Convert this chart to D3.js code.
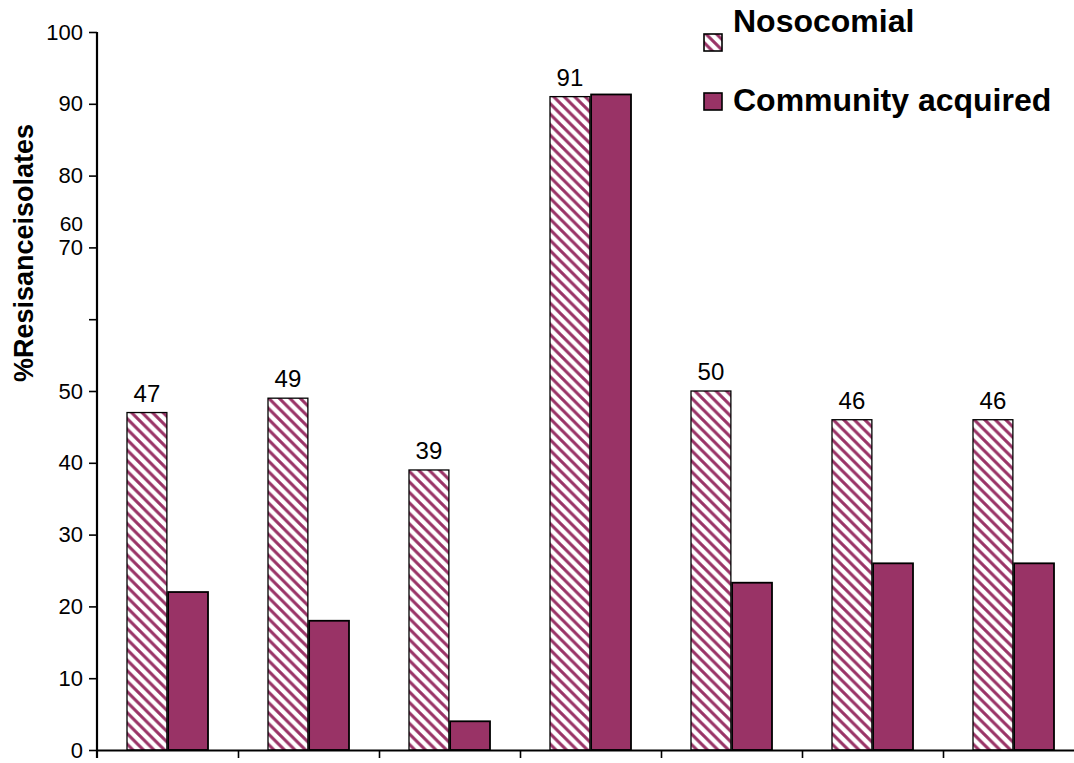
<!DOCTYPE html>
<html>
<head>
<meta charset="utf-8">
<script src="https://cdn.jsdelivr.net/npm/d3@7"></script>
<style>
  body { margin: 0; background: #fff; }
  svg { font-family: "Liberation Sans", Arial, sans-serif; }
</style>
</head>
<body>
<div id="chart"></div>
<script>
// groups have no labels on the picture
var categories = ["G1", "G2", "G3", "G4", "G5", "G6", "G7"];
var series = ["Nosocomial", "Community acquired"];
var nosocomial = [47, 49, 39, 91, 50, 46, 46];
var community = [22, 18, 4, 91.3, 23.3, 26, 26];
var yTicks = [0, 10, 20, 30, 40, 50, 60, 70, 80, 90, 100];
var yTickLabels = ["0", "10", "20", "30", "40", "50", "", "70", "80", "90", "100"];
var strayLabel = "60"; // printed above the 70 label in the original

function draw_chart() {
    var width = 1074, height = 763;
    var color = "#993366";

    var svg = d3.select("#chart")
        .append("svg")
        .attr("width", width)
        .attr("height", height);

    // hatch for nosocomial bars
    var t = 10.5;
    var pat = svg.append("defs").append("pattern")
        .attr("id", "hatch")
        .attr("patternUnits", "userSpaceOnUse")
        .attr("width", t)
        .attr("height", t);
    pat.append("rect").attr("width", t).attr("height", t).attr("fill", "#fff");
    pat.append("path")
        .attr("d", "M0,0L" + t + "," + t + "M-4,"+ (t - 4) + "L4," + (t + 4) + "M" + (t - 4) + ",-4L" + (t + 4) + ",4")
        .attr("stroke", color)
        .attr("stroke-width", 3.1);

    var y = d3.scaleLinear()
        .domain([0, 100])
        .range([750, 32]);

    var x = d3.scaleBand()
        .domain(categories)
        .range([97, 1084]);

    var x1 = d3.scaleBand()
        .domain(series)
        .range([30, 111])
        .paddingInner(0.03);

    var data = categories.map(function(c, i) {
        return { cat: c, values: [nosocomial[i], community[i]] };
    });

    var groups = svg.append("g")
        .selectAll("g")
        .data(data)
        .enter().append("g")
        .attr("transform", function(d) { return "translate(" + x(d.cat) + ",0)"; });

    groups.selectAll("rect")
        .data(function(d) { return d.values.map(function(v, j) { return { key: series[j], value: v }; }); })
        .enter().append("rect")
        .attr("x", function(d) { return x1(d.key); })
        .attr("y", function(d) { return y(d.value); })
        .attr("width", x1.bandwidth())
        .attr("height", function(d) { return y(0) - y(d.value); })
        .attr("fill", function(d) { return d.key === series[0] ? "url(#hatch)" : color; })
        .attr("stroke", "#000")
        .attr("stroke-width", function(d) { return d.key === series[0] ? 1.3 : 1.8; });

    // value labels over nosocomial bars
    groups.append("text")
        .attr("x", function(d) { return x1(series[0]) + x1.bandwidth() / 2; })
        .attr("y", function(d) { return y(d.values[0]) - 11; })
        .attr("text-anchor", "middle")
        .attr("font-size", 24)
        .text(function(d) { return d.values[0]; });

    // y axis
    var yAxis = svg.append("g")
        .attr("transform", "translate(97,0)")
        .call(d3.axisLeft(y)
            .tickValues(yTicks)
            .tickFormat(function(d, i) { return yTickLabels[i]; })
            .tickSize(8)
            .tickSizeOuter(0)
            .tickPadding(6));
    yAxis.select(".domain").attr("stroke-width", 2.2).attr("d", "M0,32V758");
    yAxis.selectAll(".tick line").attr("stroke-width", 1.6);
    yAxis.selectAll(".tick text").attr("font-size", 22).attr("font-family", "Liberation Sans, Arial, sans-serif");

    svg.append("text")
        .attr("x", 83)
        .attr("y", y(70) - 23)
        .attr("dy", "0.32em")
        .attr("text-anchor", "end")
        .attr("font-size", 21)
        .text(strayLabel);

    // x axis, ticks between groups
    var xb = d3.scaleLinear().domain([0, categories.length]).range([97, 1084]);
    var xAxis = svg.append("g")
        .attr("transform", "translate(0,750)")
        .call(d3.axisBottom(xb)
            .tickValues(d3.range(1, categories.length + 1))
            .tickFormat("")
            .tickSize(8)
            .tickSizeOuter(0));
    xAxis.select(".domain").attr("stroke-width", 2.2);
    xAxis.selectAll(".tick line").attr("stroke-width", 1.6);

    // y title
    svg.append("text")
        .attr("transform", "translate(33,253) rotate(-90)")
        .attr("text-anchor", "middle")
        .attr("font-size", 27)
        .attr("font-weight", "bold")
        .text("%Resisanceisolates");

    // legend
    var legend = svg.append("g");
    legend.append("rect")
        .attr("x", 704).attr("y", 34).attr("width", 18).attr("height", 17)
        .attr("fill", "url(#hatch)").attr("stroke", "#000").attr("stroke-width", 1.6);
    legend.append("text")
        .attr("x", 733).attr("y", 32)
        .attr("font-size", 32).attr("font-weight", "bold")
        .text(series[0]);
    legend.append("rect")
        .attr("x", 704).attr("y", 93).attr("width", 18).attr("height", 17)
        .attr("fill", color).attr("stroke", "#000").attr("stroke-width", 1.6);
    legend.append("text")
        .attr("x", 733).attr("y", 111)
        .attr("font-size", 32).attr("font-weight", "bold")
        .text(series[1]);
}

draw_chart();
</script>
</body>
</html>
